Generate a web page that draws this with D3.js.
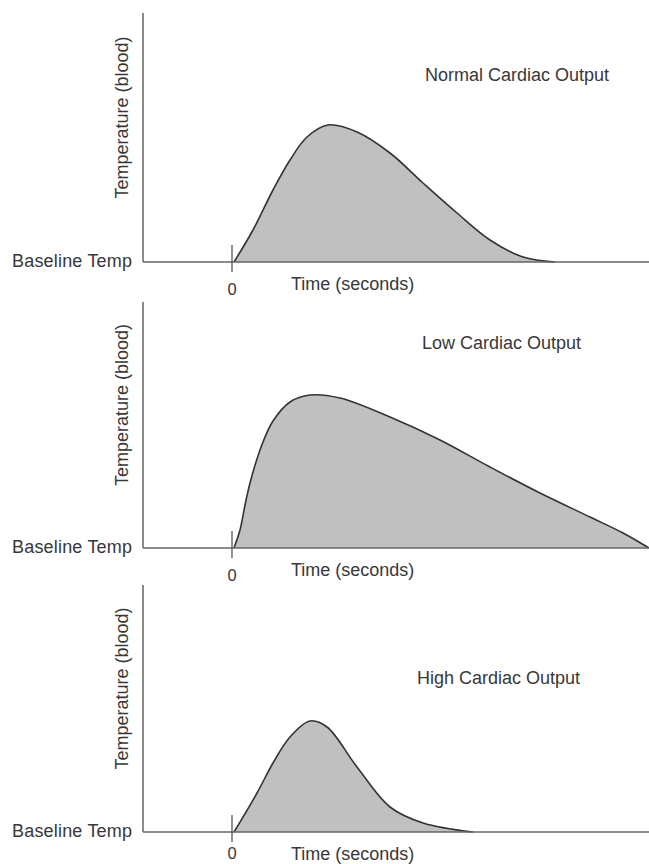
<!DOCTYPE html>
<html>
<head>
<meta charset="utf-8">
<script src="https://cdn.jsdelivr.net/npm/d3@7"></script>
<style>
  html, body { margin: 0; padding: 0; background: #fff; }
  svg { display: block; }
  text { font-family: "Liberation Sans", Arial, sans-serif; fill: #383838; }
</style>
</head>
<body>
<svg id="chart" width="649" height="864"></svg>
<script>
// ---- Data (time in arbitrary seconds units, temperature rise above baseline in arbitrary units)
const panelTitles = ["Normal  Cardiac Output", "Low Cardiac Output", "High Cardiac Output"];
const yAxisLabel = "Temperature  (blood)";
const xAxisLabel = "Time (seconds)";
const baselineLabel = "Baseline Temp";
const zeroTickLabel = "0";

const normalTime = [0.2, 2.1, 4.1, 5.8, 7.5, 9.6, 12.5, 15.8, 19.1, 22.5, 25.8, 29.1, 32.3];
const normalTemp = [0, 3.2, 7.2, 10.2, 12.5, 13.7, 13.0, 10.9, 7.9, 4.9, 2.2, 0.5, 0];

const lowTime = [0.2, 0.8, 1.3, 1.8, 2.4, 3.1, 4.1, 5.8, 7.8, 10.8, 15.8, 20.8, 25.8, 30.8, 35.8, 39.1, 41.7];
const lowTemp = [0, 1.8, 4.3, 6.5, 8.6, 10.6, 12.7, 14.6, 15.3, 15.0, 13.1, 10.8, 8.1, 5.5, 3.1, 1.5, 0];

const highTime = [0.2, 2.5, 4.1, 5.8, 7.8, 9.5, 12.5, 15.8, 19.1, 24.1];
const highTemp = [0, 3.9, 6.9, 9.5, 11.1, 10.5, 6.5, 2.5, 0.9, 0];

const series = [
  { time: normalTime, temp: normalTemp },
  { time: lowTime, temp: lowTemp },
  { time: highTime, temp: highTemp }
];

// ---- Layout
const svg = d3.select("#chart");
const axisX = 143;
const rightX = 649;
const panels = [
  { top: 13, base: 262, titleX: 425, titleY: 81 },
  { top: 302, base: 548, titleX: 422, titleY: 349 },
  { top: 585, base: 832, titleX: 417, titleY: 684 }
];

const x = d3.scaleLinear().domain([-8.9, 41.7]).range([axisX, rightX]);

panels.forEach((p, i) => {
  const y = d3.scaleLinear().domain([0, 25]).range([p.base, p.base - 250]);
  const g = svg.append("g");
  const data = series[i].time.map((t, k) => ({ t, v: series[i].temp[k] }));
  const curve = d3.curveCatmullRom.alpha(0.5);

  const area = d3.area()
    .x(d => x(d.t)).y0(y(0)).y1(d => y(d.v)).curve(curve);
  const line = d3.line()
    .x(d => x(d.t)).y(d => y(d.v)).curve(curve);

  g.append("path").datum(data).attr("d", area)
    .attr("fill", "#c0c0c0").attr("stroke", "none");
  g.append("path").datum(data).attr("d", line)
    .attr("fill", "none").attr("stroke", "#333").attr("stroke-width", 1.6);

  // axes
  g.append("line").attr("x1", axisX).attr("x2", axisX)
    .attr("y1", p.base).attr("y2", p.top)
    .attr("stroke", "#666").attr("stroke-width", 1.5);
  g.append("line").attr("x1", axisX).attr("x2", rightX)
    .attr("y1", p.base).attr("y2", p.base)
    .attr("stroke", "#666").attr("stroke-width", 1.5);

  // zero tick
  g.append("line").attr("x1", x(0)).attr("x2", x(0))
    .attr("y1", p.base - 17).attr("y2", p.base + 10)
    .attr("stroke", "#555").attr("stroke-width", 1.3);
  g.append("text").attr("x", x(0)).attr("y", Math.min(p.base + 33, 859))
    .attr("text-anchor", "middle").attr("font-size", 16.5).text(zeroTickLabel);

  // labels
  g.append("text").attr("x", 12).attr("y", p.base + 5)
    .attr("font-size", 18).attr("textLength", 120).text(baselineLabel);
  g.append("text")
    .attr("transform", `translate(128,${(p.top + p.base) / 2 - 20}) rotate(-90)`)
    .attr("text-anchor", "middle").attr("font-size", 18).text(yAxisLabel);
  g.append("text").attr("x", 291).attr("y", p.base + 28)
    .attr("font-size", 18).text(xAxisLabel);
  g.append("text").attr("x", p.titleX).attr("y", p.titleY)
    .attr("font-size", 18).text(panelTitles[i]);
});
</script>
</body>
</html>
